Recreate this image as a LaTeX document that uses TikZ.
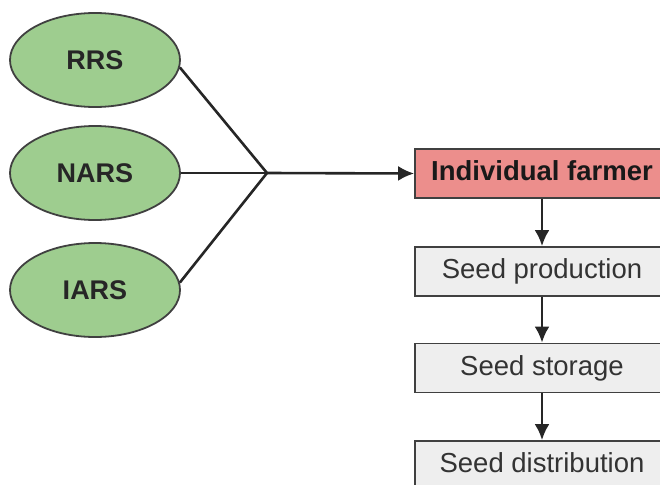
\documentclass[tikz,border=0pt]{standalone}
\usepackage{fontspec}
\setmainfont{Liberation Sans}
\usetikzlibrary{shapes.geometric,arrows.meta}

\definecolor{ovalgreen}{RGB}{158,205,143}
\definecolor{farmerred}{RGB}{236,142,140}
\definecolor{boxgray}{RGB}{238,238,238}

\begin{document}
\begin{tikzpicture}[x=1pt,y=-1pt,
        station/.style={ellipse,draw=black!75,line width=1.8pt,fill=ovalgreen,
            minimum width=170pt,minimum height=94pt,inner sep=0pt,
            font=\fontsize{27}{32}\selectfont\bfseries,text=black!85},
        stepbox/.style={rectangle,draw=black!75,line width=1.8pt,fill=boxgray,
            minimum width=254pt,minimum height=49pt,inner sep=0pt,
            text height=20pt,text depth=6pt,
            font=\fontsize{27.5}{32}\selectfont,text=black!80},
        link/.style={line width=2.6pt,black!85},
        flow/.style={link,-{Latex[length=16pt,width=15pt]}}]
            \useasboundingbox (0,0) rectangle (660,484);
            \clip (0,0) rectangle (660,484);

            \node[station] (rrs) at (95, 60) {RRS};
            \node[station] (nars) at (95, 173) {NARS};
            \node[station] (iars) at (95, 290) {IARS};

            \coordinate (jn) at (267, 173);

            \node[stepbox,fill=farmerred,font=\fontsize{27.5}{32}\selectfont\bfseries,text=black!90]
                (farmer) at (542, 173.5) {Individual farmer};
            \node[stepbox] (production) at (542, 271.5) {Seed production};
            \node[stepbox] (storage) at (542, 368) {Seed storage};
            \node[stepbox] (distribution) at (542, 465.5) {Seed distribution};

            \draw[link] (rrs.-5) -- (jn);
            \draw[link] (nars.east) -- (jn);
            \draw[link] (iars.5) -- (jn);
            \draw[flow] (jn) -- (farmer.west);

            \draw[flow] (farmer) -- (production);
            \draw[flow] (production) -- (storage);
            \draw[flow] (storage) -- (distribution);
        \end{tikzpicture}
\end{document}
